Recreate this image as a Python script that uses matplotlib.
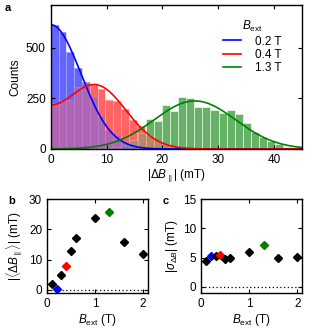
import numpy as np
import matplotlib
matplotlib.use("Agg")
import matplotlib.pyplot as plt

plt.rcParams["font.family"] = ["Liberation Sans", "DejaVu Sans"]
plt.rcParams["font.size"] = 8.5
plt.rcParams["mathtext.fontset"] = "custom"
plt.rcParams["mathtext.rm"] = "Liberation Sans"
plt.rcParams["mathtext.it"] = "Liberation Sans:italic"
plt.rcParams["mathtext.bf"] = "Liberation Sans:bold"

# histogram counts (panel a)
fields = ["0.2 T", "0.4 T", "1.3 T"]
line_colors = ["#0000ff", "#ff0000", "#008000"]
bar_colors = ["#6464ff", "#ff6464", "#66b266"]
bin_start = [0.0, 0.0, 9.75]
bin_width = [1.4, 1.4, 1.45]
counts_02 = [613, 577, 476, 400, 330, 250, 160, 90, 62, 35, 14, 6]
counts_04 = [228, 241, 241, 306, 323, 315, 298, 244, 238, 195, 143, 113,
             65, 42, 25, 14, 7, 3]
counts_13 = [3, 8, 20, 45, 80, 146, 139, 216, 185, 254, 249, 208, 205,
             192, 175, 192, 172, 126, 85, 58, 41, 25, 11, 5]
counts = [counts_02, counts_04, counts_13]

# fit parameters (folded gaussian): mean, sigma, amplitude
fit_mean = [0.3, 8.0, 25.8]
fit_sigma = [5.4, 5.5, 7.3]
fit_amp = [307, 313, 237]

# panels b and c
b_ext = [0.1, 0.2, 0.3, 0.4, 0.5, 0.6, 1.0, 1.3, 1.6, 2.0]
mean_db = [1.9, 0.3, 4.8, 8.0, 12.9, 17.0, 23.8, 25.8, 15.9, 11.7]
sigma_db = [4.5, 5.3, 5.3, 5.4, 4.7, 5.0, 5.9, 7.2, 5.0, 5.1]
point_colors = ["k", "#0000ff", "k", "#ff0000", "k", "k", "k", "#008000", "k", "k"]


def style_axes(ax):
    ax.tick_params(direction="in", top=True, right=True, length=3, width=0.8,
                   labelsize=8.5, pad=3.5)
    for s in ax.spines.values():
        s.set_linewidth(1.0)


fig = plt.figure(figsize=(3.15, 3.33), dpi=100)

# panel a
ax = fig.add_axes([0.161, 0.5526, 0.798, 0.4324])
x = np.linspace(0, 45, 500)
hists = []
for c, st, w in zip(counts, bin_start, bin_width):
    hists.append((st + w * np.arange(len(c)), c, w))
# opaque pass, then half-transparent pass of the lower layers so overlaps mix
for (edges, c, w), col in zip(hists, bar_colors):
    ax.bar(edges, c, width=w, align="edge", color=col,
           edgecolor="white", linewidth=0.4)
for i in [1, 0]:
    edges, c, w = hists[i]
    ax.bar(edges, c, width=w, align="edge", color=bar_colors[i], alpha=0.5,
           linewidth=0)
for m, s, a, col, lab in zip(fit_mean, fit_sigma, fit_amp, line_colors, fields):
    y = a * (np.exp(-(x - m) ** 2 / (2 * s ** 2)) + np.exp(-(x + m) ** 2 / (2 * s ** 2)))
    ax.plot(x, y, color=col, lw=1.2, label=lab)
ax.set_xlim(0, 45)
ax.set_ylim(0, 710)
ax.set_xticks([0, 10, 20, 30, 40])
ax.set_yticks([0, 250, 500])
ax.set_xlabel(r"$|\Delta B_\parallel|$ (mT)", labelpad=1)
ax.set_ylabel("Counts", labelpad=3)
leg = ax.legend(loc="upper right", frameon=False, title=r"$B_\mathrm{ext}$",
                fontsize=8.5, title_fontsize=8.5, handlelength=1.5,
                handletextpad=1.2, labelspacing=0.1,
                bbox_to_anchor=(0.96, 0.975))
style_axes(ax)
fig.text(0.016, 0.975, "a", fontweight="bold", fontsize=8, va="center")

# panel b
axb = fig.add_axes([0.149, 0.121, 0.320, 0.2805])
axb.axhline(0, color="k", ls=(0, (1, 2)), lw=0.9)
for xi, yi, ci in zip(b_ext, mean_db, point_colors):
    axb.plot(xi, yi, "D", color=ci, ms=3.6, mec=ci)
axb.set_xlim(0, 2.1)
axb.set_ylim(-1, 30)
axb.set_xticks([0, 1, 2])
axb.set_yticks([0, 10, 20, 30])
axb.set_xlabel(r"$B_\mathrm{ext}$ (T)", labelpad=2)
axb.set_ylabel(r"$|\langle\Delta B_\parallel\rangle|$ (mT)", labelpad=2)
style_axes(axb)
fig.text(0.027, 0.395, "b", fontweight="bold", fontsize=8, va="center")

# panel c
axc = fig.add_axes([0.639, 0.121, 0.320, 0.2805])
axc.axhline(0, color="k", ls=(0, (1, 2)), lw=0.9)
for xi, yi, ci in zip(b_ext, sigma_db, point_colors):
    axc.plot(xi, yi, "D", color=ci, ms=3.6, mec=ci)
axc.set_xlim(0, 2.1)
axc.set_ylim(-1, 15)
axc.set_xticks([0, 1, 2])
axc.set_yticks([0, 5, 10, 15])
axc.set_xlabel(r"$B_\mathrm{ext}$ (T)", labelpad=2)
axc.set_ylabel(r"$|\sigma_{\Delta B}|$ (mT)", labelpad=2)
style_axes(axc)
fig.text(0.516, 0.395, "c", fontweight="bold", fontsize=8, va="center")

fig.savefig("out.png", dpi=100)
